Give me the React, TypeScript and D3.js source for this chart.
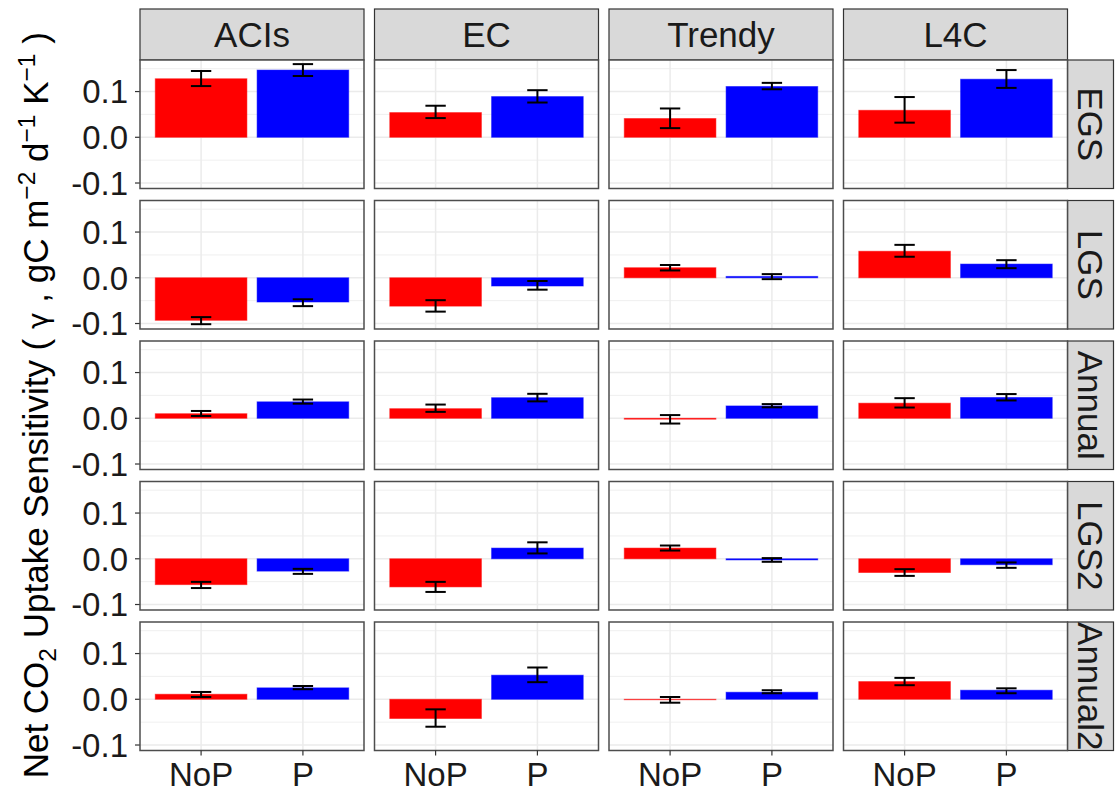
import React from "react";
import * as d3 from "d3";

// ---- data (mean, lower, upper) per model column: ACIs, EC, Trendy, L4C ----
const models = ["ACIs", "EC", "Trendy", "L4C"];
const seasons = ["EGS", "LGS", "Annual", "LGS2", "Annual2"];
const treatments = ["NoP", "P"];
const yTicks = [-0.1, 0, 0.1];
const yTickLabels = ["-0.1", "0.0", "0.1"];
const yMinor = [-0.05, 0.05, 0.15];

const EGS_NoP = [[0.128, 0.112, 0.145], [0.054, 0.042, 0.069], [0.041, 0.020, 0.063], [0.059, 0.032, 0.088]];
const EGS_P = [[0.147, 0.134, 0.160], [0.089, 0.076, 0.103], [0.111, 0.105, 0.119], [0.127, 0.108, 0.147]];
const LGS_NoP = [[-0.093, -0.1015, -0.086], [-0.062, -0.074, -0.049], [0.022, 0.016, 0.028], [0.058, 0.046, 0.072]];
const LGS_P = [[-0.053, -0.062, -0.047], [-0.018, -0.026, -0.007], [0.003, -0.003, 0.008], [0.030, 0.021, 0.0385]];
const Annual_NoP = [[0.010, 0.005, 0.016], [0.021, 0.014, 0.030], [-0.002, -0.0115, 0.007], [0.033, 0.0235, 0.044]];
const Annual_P = [[0.036, 0.032, 0.041], [0.045, 0.037, 0.0535], [0.027, 0.024, 0.031], [0.0455, 0.039, 0.053]];
const LGS2_NoP = [[-0.0565, -0.064, -0.0505], [-0.0615, -0.0725, -0.0505], [0.0234, 0.018, 0.029], [-0.030, -0.0374, -0.0227]];
const LGS2_P = [[-0.027, -0.033, -0.022], [0.0234, 0.0117, 0.036], [-0.0025, -0.0066, 0.0015], [-0.013, -0.0198, -0.008]];
const Annual2_NoP = [[0.011, 0.005, 0.016], [-0.042, -0.060, -0.022], [-0.001, -0.0075, 0.005], [0.0387, 0.0308, 0.0468]];
const Annual2_P = [[0.025, 0.022, 0.029], [0.0527, 0.0374, 0.0695], [0.0154, 0.0132, 0.0198], [0.0198, 0.0132, 0.024]];

const seasonData = [
  [EGS_NoP, EGS_P],
  [LGS_NoP, LGS_P],
  [Annual_NoP, Annual_P],
  [LGS2_NoP, LGS2_P],
  [Annual2_NoP, Annual2_P],
];
const fills = ["#FF0000", "#0000FF"];

// ---- layout ----
const W = 1115, H = 792;
const plotLeft = 140, colStep = 234.5, panelW = 224;
const plotTop = 60, rowStep = 140.5, panelH = 128.5;
const stripTopY = 9, stripTopH = 51;
const stripRightW = 46;
const FONT = "'Liberation Sans', Arial, Helvetica, sans-serif";
const tickFont = 33, stripFont = 35, titleFont = 35;

export default function App() {
  const y = d3.scaleLinear().domain([-0.112, 0.169]).range([panelH, 0]);
  const x = d3.scalePoint<string>().domain(treatments).range([0, panelW]).padding(0.6);
  const step = x.step();
  const barW = step * 0.9;
  const errW = step * 0.2;
  const colX = (c: number) => plotLeft + c * colStep;
  const rowY = (r: number) => plotTop + r * rowStep;
  const rightX = colX(models.length - 1) + panelW;

  return (
    <svg width={W} height={H} style={{ position: "absolute", left: 0, top: 0, background: "#fff" }} fontFamily={FONT}>
      {/* top strips */}
      {models.map((m, c) => (
        <g key={"ts" + m} transform={`translate(${colX(c)},${stripTopY})`}>
          <rect width={panelW} height={stripTopH} fill="#D9D9D9" stroke="#333" strokeWidth={1.2} />
          <text x={panelW / 2} y={stripTopH / 2 + 12.5} textAnchor="middle" fontSize={stripFont} fill="#1a1a1a">{m}</text>
        </g>
      ))}
      {/* right strips */}
      {seasons.map((s, r) => (
        <g key={"rs" + s} transform={`translate(${rightX},${rowY(r)})`}>
          <rect width={stripRightW} height={panelH} fill="#D9D9D9" stroke="#333" strokeWidth={1.2} />
          <text transform={`translate(${stripRightW / 2},${panelH / 2}) rotate(90)`} y={12.5} textAnchor="middle" fontSize={stripFont} fill="#1a1a1a">{s}</text>
        </g>
      ))}
      {/* panels */}
      {seasons.map((s, r) => (
        <g key={"row" + s}>
          {/* y axis */}
          <g transform={`translate(${plotLeft},${rowY(r)})`}>
            {yTicks.map((t, i) => (
              <g key={"yt" + i}>
                <line x1={-5} x2={0} y1={y(t)} y2={y(t)} stroke="#333" strokeWidth={1.2} />
                <text x={-12} y={y(t) + 11.8} textAnchor="end" fontSize={tickFont} fill="#1a1a1a">{yTickLabels[i]}</text>
              </g>
            ))}
          </g>
          {models.map((m, c) => {
            const [nop, p] = seasonData[r];
            const rows = [nop[c], p[c]];
            return (
              <g key={"p" + s + m} transform={`translate(${colX(c)},${rowY(r)})`}>
                <rect width={panelW} height={panelH} fill="#fff" />
                {yMinor.map((t, i) => (
                  <line key={"mn" + i} x1={0} x2={panelW} y1={y(t)} y2={y(t)} stroke="#EBEBEB" strokeWidth={0.8} />
                ))}
                {yTicks.map((t, i) => (
                  <line key={"mj" + i} x1={0} x2={panelW} y1={y(t)} y2={y(t)} stroke="#EBEBEB" strokeWidth={1.5} />
                ))}
                {treatments.map((t) => (
                  <line key={"vx" + t} x1={x(t)} x2={x(t)} y1={0} y2={panelH} stroke="#EBEBEB" strokeWidth={1.5} />
                ))}
                {rows.map((d, k) => {
                  const cx = x(treatments[k]) as number;
                  const y0 = y(0), y1 = y(d[0]);
                  return (
                    <rect key={"b" + k} x={cx - barW / 2} y={Math.min(y0, y1)} width={barW} height={Math.abs(y1 - y0)}
                      fill={fills[k]} stroke={fills[k]} strokeOpacity={0.5} strokeWidth={1} />
                  );
                })}
                {rows.map((d, k) => {
                  const cx = x(treatments[k]) as number;
                  return (
                    <g key={"e" + k} stroke="#000" strokeWidth={2} fill="none">
                      <line x1={cx} x2={cx} y1={y(d[1])} y2={y(d[2])} />
                      <line x1={cx - errW / 2} x2={cx + errW / 2} y1={y(d[1])} y2={y(d[1])} />
                      <line x1={cx - errW / 2} x2={cx + errW / 2} y1={y(d[2])} y2={y(d[2])} />
                    </g>
                  );
                })}
                <rect width={panelW} height={panelH} fill="none" stroke="#4d4d4d" strokeWidth={1.5} />
                {r === seasons.length - 1 && treatments.map((t) => (
                  <g key={"xt" + t}>
                    <line x1={x(t)} x2={x(t)} y1={panelH} y2={panelH + 5} stroke="#333" strokeWidth={1.2} />
                    <text x={x(t)} y={panelH + 35} textAnchor="middle" fontSize={tickFont} fill="#1a1a1a">{t}</text>
                  </g>
                ))}
              </g>
            );
          })}
        </g>
      ))}
      {/* y axis title */}
      <text transform={`translate(48,${(plotTop + rowY(seasons.length - 1) + panelH) / 2}) rotate(-90)`} textAnchor="middle" fontSize={titleFont} fill="#000">
        <tspan>Net CO</tspan>
        <tspan fontSize={titleFont * 0.7} dy={8}>2</tspan>
        <tspan dy={-8}> Uptake Sensitivity ( </tspan>
        <tspan fontFamily="'DejaVu Sans', sans-serif" fontSize={titleFont * 0.8}>γ</tspan>
        <tspan> , gC m</tspan>
        <tspan fontSize={titleFont * 0.7} dy={-13}>−2</tspan>
        <tspan dy={13}> d</tspan>
        <tspan fontSize={titleFont * 0.7} dy={-13}>−1</tspan>
        <tspan dy={13}> K</tspan>
        <tspan fontSize={titleFont * 0.7} dy={-13}>−1</tspan>
        <tspan dy={13}> )</tspan>
      </text>
    </svg>
  );
}
